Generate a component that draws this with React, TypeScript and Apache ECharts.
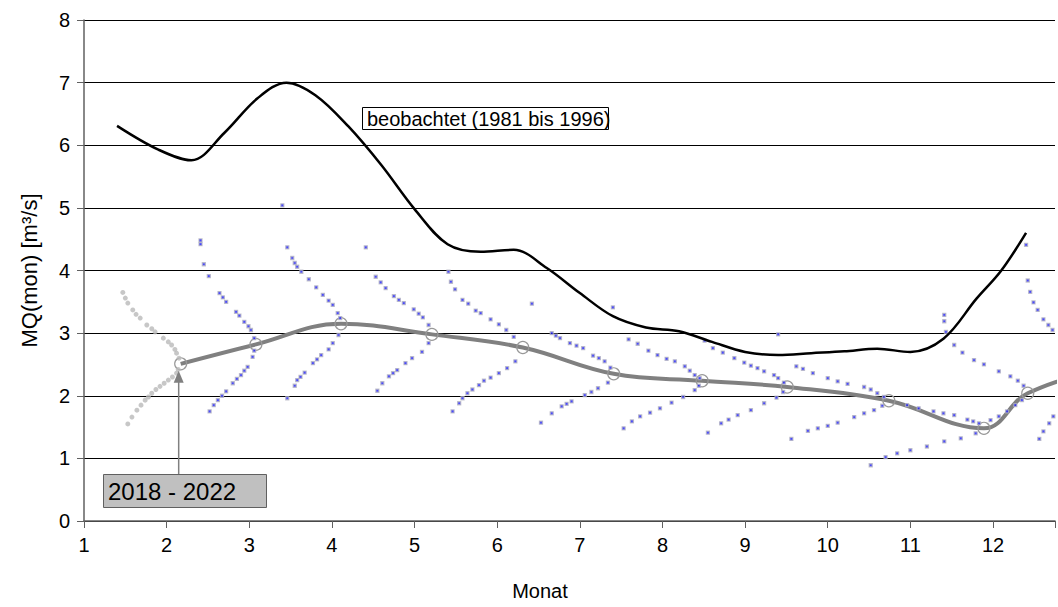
import React, { useEffect, useRef } from 'react';
import * as echarts from 'echarts';

// observed mean monthly discharge 1981-1996 (black line)
const beobX = [1.4, 1.9, 2.3, 2.7, 3.1, 3.45, 3.8, 4.2, 4.6, 5.0, 5.4, 5.8, 6.2, 6.6, 7.0, 7.4, 7.8, 8.2, 8.6, 9.0, 9.4, 9.8, 10.2, 10.6, 11.0, 11.4, 11.8, 12.1, 12.4];
const beobY = [6.31, 5.93, 5.76, 6.2, 6.75, 7.0, 6.8, 6.3, 5.68, 4.98, 4.42, 4.3, 4.33, 4.04, 3.64, 3.27, 3.09, 3.03, 2.86, 2.7, 2.65, 2.68, 2.71, 2.75, 2.7, 2.91, 3.55, 4.0, 4.6];

// 2018 - 2022 monthly means (grey line with circles)
const simX = [2.17, 3.08, 4.11, 5.21, 6.31, 7.41, 8.48, 9.51, 10.74, 11.89, 12.42, 13.5];
const simY = [2.51, 2.82, 3.15, 2.98, 2.77, 2.35, 2.24, 2.14, 1.92, 1.48, 2.04, 2.5];

// scatter "fans" around each monthly value
const fan01 = [[1.47, 3.65], [1.5, 3.56], [1.53, 3.48], [1.59, 3.37], [1.63, 3.3], [1.68, 3.24], [1.76, 3.13], [1.82, 3.07], [1.86, 3.02], [1.96, 2.92], [2.02, 2.86], [2.06, 2.81], [2.1, 2.74], [2.12, 2.68], [2.15, 2.6],
  [2.14, 2.42], [2.12, 2.36], [2.07, 2.3], [2.02, 2.25], [1.97, 2.2], [1.92, 2.15], [1.87, 2.1], [1.82, 2.04], [1.78, 1.98], [1.74, 1.93], [1.69, 1.85], [1.64, 1.77], [1.58, 1.66], [1.53, 1.55]];
const fan02 = [[2.41, 4.48], [2.41, 4.42], [2.45, 4.1], [2.51, 3.91], [2.64, 3.64], [2.68, 3.57], [2.72, 3.5], [2.84, 3.34], [2.88, 3.28], [2.94, 3.18], [2.99, 3.11], [3.02, 3.05], [3.06, 2.92],
  [3.06, 2.72], [3.04, 2.62], [2.98, 2.46], [2.94, 2.4], [2.9, 2.33], [2.85, 2.27], [2.8, 2.2], [2.72, 2.07], [2.67, 2.0], [2.62, 1.93], [2.57, 1.85], [2.52, 1.75]];
const fan03 = [[3.4, 5.04], [3.46, 4.37], [3.52, 4.2], [3.55, 4.12], [3.58, 4.06], [3.63, 3.98], [3.72, 3.86], [3.81, 3.73], [3.89, 3.61], [3.96, 3.52], [4.01, 3.45], [4.07, 3.32], [4.1, 3.24],
  [4.08, 2.97], [4.01, 2.84], [3.96, 2.74], [3.87, 2.65], [3.82, 2.58], [3.77, 2.52], [3.67, 2.37], [3.62, 2.3], [3.58, 2.25], [3.55, 2.16], [3.46, 1.96]];
const fan04 = [[4.41, 4.37], [4.53, 3.9], [4.59, 3.81], [4.65, 3.72], [4.75, 3.59], [4.81, 3.53], [4.87, 3.48], [4.99, 3.38], [5.05, 3.31], [5.1, 3.25], [5.17, 3.13],
  [5.17, 2.84], [5.09, 2.7], [4.97, 2.6], [4.89, 2.52], [4.79, 2.41], [4.74, 2.36], [4.69, 2.31], [4.61, 2.2], [4.55, 2.08]];
const fan05 = [[5.41, 3.98], [5.44, 3.82], [5.49, 3.7], [5.58, 3.53], [5.65, 3.47], [5.74, 3.36], [5.8, 3.32], [5.92, 3.22], [6.02, 3.14], [6.11, 3.05], [6.2, 2.94],
  [6.22, 2.55], [6.12, 2.44], [6.02, 2.36], [5.92, 2.29], [5.84, 2.24], [5.78, 2.17], [5.7, 2.1], [5.64, 2.04], [5.58, 1.96], [5.54, 1.88], [5.46, 1.75]];
const fan06 = [[6.42, 3.47], [6.66, 3.0], [6.71, 2.96], [6.76, 2.92], [6.88, 2.84], [6.96, 2.8], [7.04, 2.76], [7.16, 2.64], [7.23, 2.6], [7.3, 2.55], [7.37, 2.45],
  [7.34, 2.21], [7.22, 2.12], [7.14, 2.06], [7.06, 2.01], [6.9, 1.91], [6.84, 1.87], [6.78, 1.83], [6.66, 1.72], [6.53, 1.57]];
const fan07 = [[7.4, 3.41], [7.59, 2.9], [7.7, 2.83], [7.83, 2.72], [7.94, 2.65], [8.05, 2.59], [8.15, 2.55], [8.27, 2.47], [8.33, 2.4], [8.39, 2.33], [8.45, 2.28],
  [8.44, 2.16], [8.39, 2.09], [8.25, 1.98], [8.11, 1.89], [7.97, 1.8], [7.85, 1.73], [7.73, 1.67], [7.63, 1.59], [7.53, 1.48]];
const fan08 = [[8.51, 2.88], [8.61, 2.76], [8.73, 2.69], [8.87, 2.6], [8.99, 2.53], [9.07, 2.48], [9.15, 2.44], [9.23, 2.39], [9.35, 2.33], [9.4, 2.28], [9.47, 2.21],
  [9.46, 2.06], [9.38, 1.97], [9.23, 1.88], [9.07, 1.77], [8.91, 1.69], [8.8, 1.62], [8.71, 1.56], [8.55, 1.41]];
const fan09 = [[9.4, 2.98], [9.62, 2.47], [9.7, 2.43], [9.82, 2.36], [10.0, 2.28], [10.12, 2.23], [10.24, 2.19], [10.44, 2.14], [10.52, 2.1], [10.6, 2.04], [10.68, 1.98],
  [10.66, 1.84], [10.56, 1.77], [10.44, 1.72], [10.32, 1.66], [10.12, 1.57], [10.0, 1.52], [9.88, 1.48], [9.76, 1.44], [9.56, 1.31]];
const fan10 = [[10.96, 1.85], [11.1, 1.8], [11.28, 1.75], [11.4, 1.72], [11.53, 1.69], [11.69, 1.62], [11.76, 1.59], [11.83, 1.56],
  [11.79, 1.4], [11.61, 1.32], [11.41, 1.27], [11.2, 1.19], [11.0, 1.13], [10.84, 1.08], [10.7, 1.02], [10.52, 0.89]];
const fan11 = [[11.41, 3.29], [11.41, 3.19], [11.43, 3.02], [11.53, 2.81], [11.63, 2.69], [11.77, 2.57], [11.89, 2.5], [12.07, 2.39], [12.21, 2.31], [12.3, 2.24], [12.37, 2.16],
  [12.35, 1.93], [12.27, 1.85], [12.17, 1.75], [12.07, 1.67], [11.97, 1.61]];
const fan12 = [[12.4, 4.41], [12.42, 3.84], [12.45, 3.66], [12.49, 3.49], [12.54, 3.37], [12.61, 3.22], [12.67, 3.13], [12.72, 3.05], [12.8, 2.95],
  [12.56, 1.31], [12.61, 1.43], [12.68, 1.56], [12.73, 1.67], [12.8, 1.78]];
const blueFans = [fan02, fan03, fan04, fan05, fan06, fan07, fan08, fan09, fan10, fan11, fan12];

const xTicks = [1, 2, 3, 4, 5, 6, 7, 8, 9, 10, 11, 12];
const yTicks = [0, 1, 2, 3, 4, 5, 6, 7, 8];

const labelBeob = 'beobachtet (1981 bis 1996)';
const labelSim = '2018 - 2022';

export default function App() {
  const ref = useRef<HTMLDivElement>(null);
  useEffect(() => {
    const chart = echarts.init(ref.current!, null, { renderer: 'svg' });
    const font = '"Liberation Sans", Arial, sans-serif';
    const axisColor = '#606060';
    chart.setOption({
      animation: false,
      backgroundColor: '#ffffff',
      textStyle: { fontFamily: font },
      grid: { left: 84, top: 20, right: 0, bottom: 86, containLabel: false },
      xAxis: {
        type: 'value',
        min: xTicks[0],
        max: 12.75,
        interval: 1,
        axisLine: { lineStyle: { color: axisColor, width: 1.5 } },
        axisTick: { length: 7, lineStyle: { color: axisColor, width: 1 } },
        axisLabel: {
          margin: 14, fontSize: 20, color: '#000', fontFamily: font,
          formatter: (v: number) => (xTicks.indexOf(v) >= 0 ? String(v) : ''),
        },
        splitLine: { show: false },
      },
      yAxis: {
        type: 'value',
        min: yTicks[0],
        max: yTicks[yTicks.length - 1],
        interval: 1,
        name: 'MQ(mon) [m³/s]',
        nameLocation: 'middle',
        nameGap: 44,
        nameRotate: 90,
        nameTextStyle: { fontSize: 22, color: '#000', fontFamily: font },
        axisLine: { show: true, lineStyle: { color: axisColor, width: 1.5 } },
        axisTick: { show: true, length: 7, lineStyle: { color: axisColor, width: 1 } },
        axisLabel: { margin: 14, fontSize: 20, color: '#000', fontFamily: font },
        splitLine: { show: true, lineStyle: { color: '#000', width: 1 } },
      },
      series: [
        {
          type: 'line',
          name: labelSim,
          data: simX.map((x, i) => [x, simY[i]]),
          smooth: 0.4,
          symbol: 'circle',
          symbolSize: 12,
          showAllSymbol: true,
          lineStyle: { color: '#808080', width: 4 },
          itemStyle: { color: 'rgba(255,255,255,0)', borderColor: '#999999', borderWidth: 1.2 },
          z: 2,
        },
        {
          type: 'scatter',
          name: 'fan-grey',
          data: fan01,
          symbol: 'circle',
          symbolSize: 5,
          itemStyle: { color: '#b9b9b9' },
          z: 3,
        },
        {
          type: 'scatter',
          name: 'fans',
          data: blueFans.flat(),
          symbol: 'rect',
          symbolSize: 3,
          itemStyle: { color: '#1a1aff', borderColor: 'rgba(178,178,192,0.95)', borderWidth: 1.3 },
          z: 3,
        },
        {
          type: 'line',
          name: labelBeob,
          data: beobX.map((x, i) => [x, beobY[i]]),
          smooth: 0.35,
          symbol: 'none',
          lineStyle: { color: '#000', width: 2.5 },
          z: 4,
        },
      ],
    });

    const tip = chart.convertToPixel({ gridIndex: 0 }, [simX[0], simY[0]]) as number[];
    const ax = tip[0] - 2;
    chart.setOption({
      graphic: [
        { type: 'rect', shape: { x: 362.5, y: 107.5, width: 246, height: 22 }, style: { fill: '#fff', stroke: '#000', lineWidth: 1 }, z: 10 },
        { type: 'text', x: 367, y: 119, style: { text: labelBeob, font: `20px ${font}`, fill: '#000', textVerticalAlign: 'middle' }, z: 11 },
        { type: 'line', shape: { x1: ax, y1: 474, x2: ax, y2: tip[1] + 16 }, style: { stroke: '#808080', lineWidth: 1.5 }, z: 10 },
        { type: 'polygon', shape: { points: [[ax, tip[1] + 7], [ax - 5, tip[1] + 19], [ax + 5, tip[1] + 19]] }, style: { fill: '#808080' }, z: 10 },
        { type: 'rect', shape: { x: 103.5, y: 474.5, width: 163, height: 33 }, style: { fill: '#c0c0c0', stroke: '#606060', lineWidth: 1 }, z: 10 },
        { type: 'text', x: 108, y: 491, style: { text: labelSim, font: `24px ${font}`, fill: '#000', textVerticalAlign: 'middle' }, z: 11 },
        { type: 'text', x: 540, y: 591, style: { text: 'Monat', font: `20px ${font}`, fill: '#000', textAlign: 'center', textVerticalAlign: 'middle' }, z: 11 },
      ],
    });
    return () => chart.dispose();
  }, []);
  return <div ref={ref} style={{ position: 'absolute', left: 0, top: 0, width: 1058, height: 607 }} />;
}
